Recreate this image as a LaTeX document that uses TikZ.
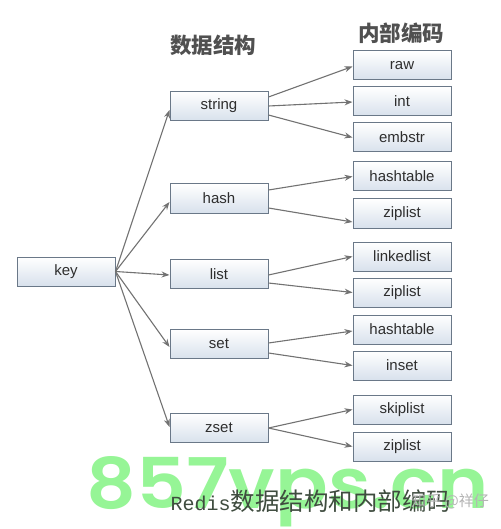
\documentclass[tikz,border=0pt]{standalone}
\usepackage{fontspec}
\setmainfont{Liberation Sans}
\newfontfamily\cjk{Noto Sans CJK SC}
\newfontfamily\monof{Liberation Mono}
\newfontfamily\wmfont{Poppins}[UprightFont=* SemiBold]
\usetikzlibrary{arrows.meta,calc}
\definecolor{boxline}{HTML}{6A7888}
\definecolor{boxbot}{HTML}{D8E1EC}
\definecolor{boxtext}{HTML}{2E2E2E}
\definecolor{arrcol}{HTML}{727272}
\definecolor{headcol}{HTML}{505050}
\definecolor{capcol}{HTML}{3F4C3F}
\definecolor{wmgreen}{RGB}{150,245,150}
\definecolor{wmgray}{HTML}{B4B4B4}
\begin{document}
\begin{tikzpicture}[x=1pt,y=-1pt,
  box/.style={draw=boxline, line width=1pt, top color=white, bottom color=boxbot,
    minimum width=98pt, minimum height=29pt, inner sep=0pt,
    font=\fontsize{15}{15}\selectfont, text=boxtext},
  arr/.style={draw=arrcol, line width=1.1pt, -{Stealth[length=8pt,width=6pt]}},
  head/.style={font=\cjk\bfseries\fontsize{21.5}{21.5}\selectfont, text=headcol, inner sep=0pt}]
\useasboundingbox (0,0) rectangle (500,529);

% watermark
\node[anchor=base west, inner sep=0pt, text=wmgreen, font=\wmfont\fontsize{70}{70}\selectfont] (wm) at (86,508) {\scalebox{1.11}[1]{857vps.cn}};

% headers
\node[head] (h1) at (213,45) {数据结构};
\node[head] (h2) at (401,33) {内部编码};

% key
\node[box] (key) at (66,271.5) {key};

% middle
\node[box] (string) at (219,106) {string};
\node[box] (hash) at (219,198.5) {hash};
\node[box] (list) at (219,274) {list};
\node[box] (set) at (219,344) {set};
\node[box] (zset) at (219,428) {zset};

% right
\node[box] (raw) at (402,65.5) {raw};
\node[box] (int) at (402,101.5) {int};
\node[box] (embstr) at (402,137.5) {embstr};
\node[box] (ht1) at (402,176.5) {hashtable};
\node[box] (zl1) at (402,213.5) {ziplist};
\node[box] (ll) at (402,256.5) {linkedlist};
\node[box] (zl2) at (402,292.5) {ziplist};
\node[box] (ht2) at (402,329.5) {hashtable};
\node[box] (inset) at (402,365.5) {inset};
\node[box] (skip) at (402,409.5) {skiplist};
\node[box] (zl3) at (402,446.5) {ziplist};

% key arrows
\draw[arr] (key.east) -- ($(string.west)+(0,4)$);
\draw[arr] (key.east) -- ($(hash.west)+(0,3.5)$);
\draw[arr] (key.east) -- ($(list.west)+(0,1)$);
\draw[arr] (key.east) -- ($(set.west)+(0,3)$);
\draw[arr] (key.east) -- ($(zset.west)+(0,-1)$);

% middle to right
\draw[arr] ($(string.east)+(0,-9)$) -- ($(raw.west)+(0,1)$);
\draw[arr] (string.east) -- ($(int.west)+(0,0.5)$);
\draw[arr] ($(string.east)+(0,9)$) -- (embstr.west);
\draw[arr] ($(hash.east)+(0,-8.5)$) -- (ht1.west);
\draw[arr] ($(hash.east)+(0,9.5)$) -- ($(zl1.west)+(0,8.5)$);
\draw[arr] ($(list.east)+(0,1)$) -- (ll.west);
\draw[arr] ($(list.east)+(0,9)$) -- (zl2.west);
\draw[arr] ($(set.east)+(0,-1)$) -- ($(ht2.west)+(0,1.5)$);
\draw[arr] ($(set.east)+(0,9)$) -- (inset.west);
\draw[arr] (zset.east) -- (skip.west);
\draw[arr] (zset.east) -- (zl3.west);

% caption
\node[inner sep=0pt, text=capcol] (cap) at (311,501)
  {{\monof\fontsize{20}{20}\selectfont Redis}{\cjk\fontsize{24.5}{24.5}\selectfont 数据结构和内部编码}};
\node[inner sep=0pt, text=wmgray, font=\cjk\fontsize{15}{15}\selectfont] (zh) at (450,501) {知乎 @祥仔};
\end{tikzpicture}
\end{document}
